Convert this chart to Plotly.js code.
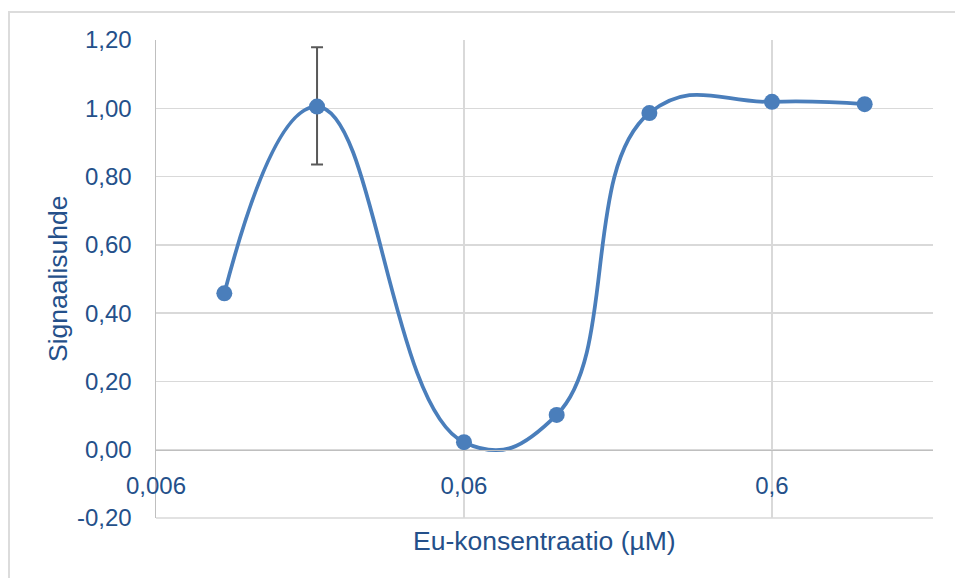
<!DOCTYPE html>
<html>
<head>
<meta charset="utf-8">
<script src="https://cdn.plot.ly/plotly-3.0.1.min.js"></script>
<style>
  html, body { margin: 0; padding: 0; background: #ffffff; }
  #chart { width: 955px; height: 578px; position: absolute; left: 0; top: 0; }
  #frame { position: absolute; left: 8px; top: 11px; width: 960px; height: 590px;
           border: 2px solid #dcdcdc; box-sizing: border-box; pointer-events: none; }
</style>
</head>
<body>
<div id="chart"></div>
<div id="frame"></div>
<script>
// Data
const concentrations = [0.01, 0.02, 0.06, 0.12, 0.24, 0.6, 1.2];   // Eu-konsentraatio (µM)
const signalRatio    = [0.458, 1.005, 0.022, 0.102, 0.986, 1.019, 1.012];
const errorPlus      = [0, 0.174, 0, 0, 0, 0, 0];
const errorMinus     = [0, 0.170, 0, 0, 0, 0, 0];
const xTickValues    = [0.006, 0.06, 0.6];
const xTickLabels    = ["0,006", "0,06", "0,6"];
const yTickValues    = [-0.2, 0, 0.2, 0.4, 0.6, 0.8, 1.0, 1.2];
const yTickLabels    = ["-0,20", "0,00", "0,20", "0,40", "0,60", "0,80", "1,00", "1,20"];

const textColor = "#24508a";
const fontFam = "Liberation Sans, Arial, sans-serif";

const trace = {
  x: concentrations,
  y: signalRatio,
  type: "scatter",
  mode: "lines+markers",
  line: { color: "#4a7ebb", width: 3.75, shape: "spline", smoothing: 1.3 },
  marker: { color: "#4a7ebb", size: 16 },
  error_y: {
    type: "data", symmetric: false,
    array: errorPlus, arrayminus: errorMinus,
    color: "#595959", thickness: 2, width: 6
  },
  hoverinfo: "skip",
  cliponaxis: false
};

const layout = {
  width: 955, height: 578,
  margin: { l: 156, r: 22, t: 40, b: 60 },
  paper_bgcolor: "rgba(0,0,0,0)",
  plot_bgcolor: "#ffffff",
  separators: ", ",
  showlegend: false,
  font: { family: fontFam, color: textColor, size: 24 },
  xaxis: {
    type: "log",
    range: [Math.log10(0.006), Math.log10(2.0)],
    tickvals: xTickValues,
    ticktext: xTickLabels,
    ticks: "",
    ticklabelstandoff: 14,
    showgrid: true, gridcolor: "#d9d9d9", gridwidth: 1.5,
    showline: true, linecolor: "#bfbfbf", linewidth: 1.5,
    zeroline: false,
    anchor: "free", position: 0.2 / 1.4,
    tickfont: { size: 24, color: textColor },
    title: { text: "" }
  },
  yaxis: {
    range: [-0.2, 1.2],
    tickvals: yTickValues,
    ticktext: yTickLabels,
    ticks: "",
    ticklabelstandoff: 18,
    showgrid: true, gridcolor: "#d9d9d9", gridwidth: 1.5,
    showline: true, linecolor: "#bfbfbf", linewidth: 1.5,
    zeroline: false,
    tickfont: { size: 24, color: textColor },
    title: { text: "" }
  },
  shapes: [
    // bottom edge gridline of the plot area
    { type: "line", xref: "paper", yref: "paper", x0: 0, x1: 1, y0: 0, y1: 0,
      line: { color: "#d9d9d9", width: 1.5 }, layer: "below" }
  ],
  annotations: [
    { text: "Eu-konsentraatio (µM)", xref: "paper", yref: "paper",
      x: 0.5, y: -0.0, yshift: -23, xanchor: "center", yanchor: "middle",
      showarrow: false, font: { size: 26.5, color: textColor, family: fontFam } },
    { text: "Signaalisuhde", xref: "paper", yref: "paper",
      x: 0, xshift: -98, y: 0.5, xanchor: "center", yanchor: "middle", textangle: -90,
      showarrow: false, font: { size: 26.5, color: textColor, family: fontFam } }
  ]
};

Plotly.newPlot("chart", [trace], layout, { staticPlot: true, displayModeBar: false });
</script>
</body>
</html>
